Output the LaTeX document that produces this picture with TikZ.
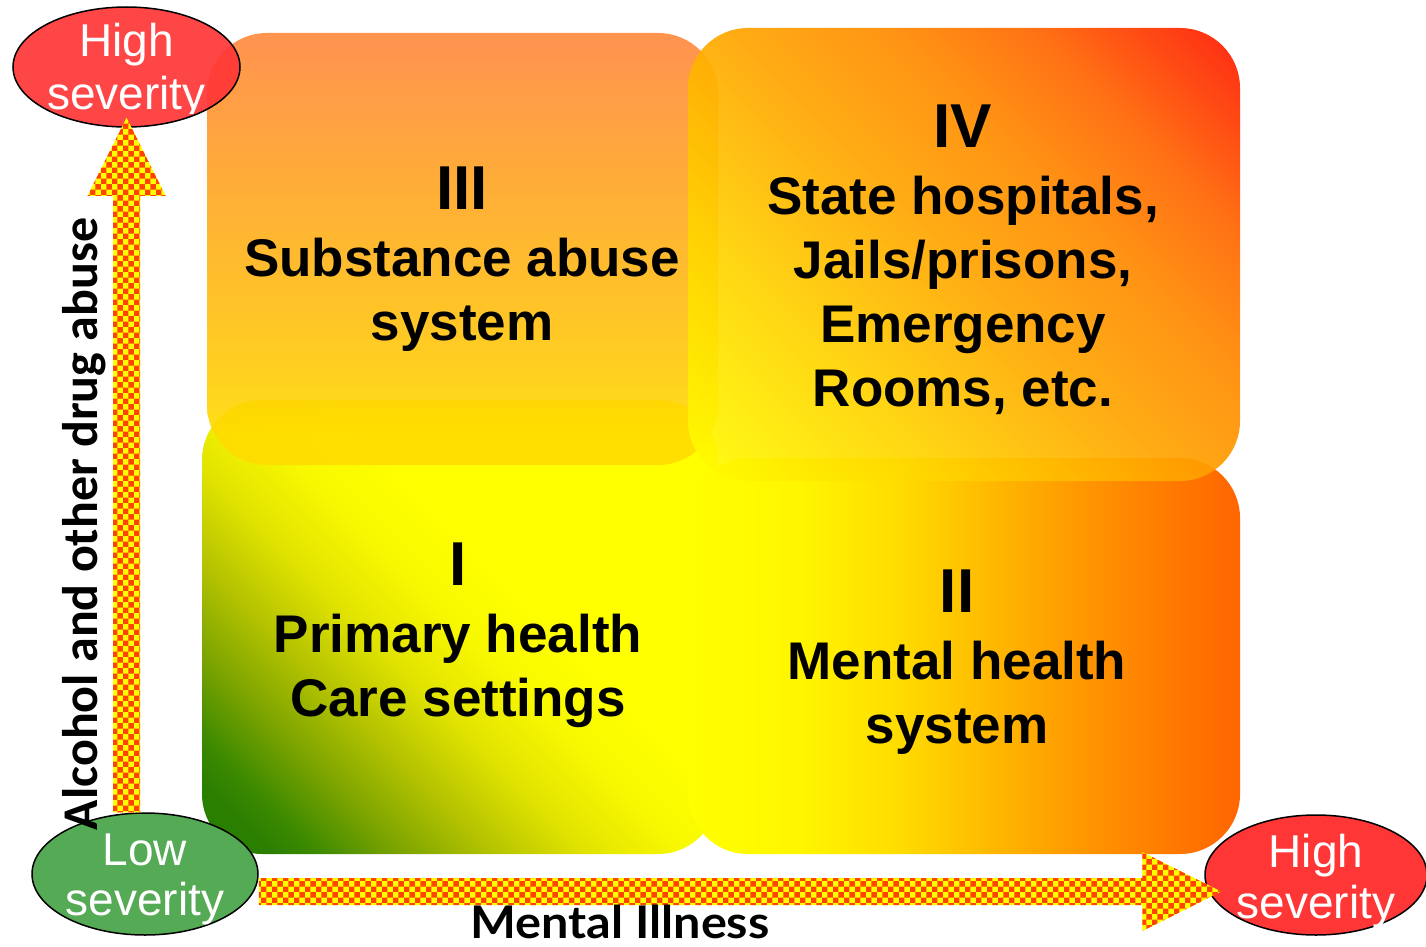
\documentclass[tikz,border=0pt]{standalone}
\usepackage{fontspec}
\setmainfont{Liberation Sans}
\newfontfamily\calibfont{Carlito}
\newfontfamily\gillfont[FakeStretch=1.08]{Lato}
\usetikzlibrary{calc,patterns,shapes.geometric}

\definecolor{sevred}{HTML}{FF3636}
\definecolor{sevgreen}{HTML}{55AA55}
\definecolor{chkred}{HTML}{FF4400}
\definecolor{chkyel}{HTML}{FFFF00}
% III
\definecolor{c3a}{HTML}{FFDC00}
\definecolor{c3b}{HTML}{FFC20D}
\definecolor{c3c}{HTML}{FFA522}
\definecolor{c3d}{HTML}{FF883C}
% IV
\definecolor{c4a}{HTML}{FFFF00}
\definecolor{c4b}{HTML}{FFD500}
\definecolor{c4c}{HTML}{FFA300}
\definecolor{c4d}{HTML}{FF8B00}
\definecolor{c4e}{HTML}{FF6400}
\definecolor{c4f}{HTML}{FF3C00}
\definecolor{c4g}{HTML}{FF1500}
% I
\definecolor{c1a}{HTML}{2A7E00}
\definecolor{c1b}{HTML}{3E8A00}
\definecolor{c1c}{HTML}{78A200}
\definecolor{c1d}{HTML}{B4C200}
\definecolor{c1e}{HTML}{E2E400}
\definecolor{c1f}{HTML}{F8F800}
\definecolor{c1g}{HTML}{FFFF00}
% II
\definecolor{c2a}{HTML}{FFFF00}
\definecolor{c2b}{HTML}{FFF600}
\definecolor{c2c}{HTML}{FFDC00}
\definecolor{c2d}{HTML}{FFB400}
\definecolor{c2e}{HTML}{FF9000}
\definecolor{c2f}{HTML}{FF7000}
\definecolor{c2g}{HTML}{FF6600}

\pgfdeclareverticalshading{shIII}{100bp}{color(0bp)=(c3a); color(28bp)=(c3a); color(40.5bp)=(c3b); color(57bp)=(c3c); color(74bp)=(c3d); color(100bp)=(c3d)}
\pgfdeclarehorizontalshading{shIV}{100bp}{color(0bp)=(c4a); color(14.6bp)=(c4a); color(32.3bp)=(c4b); color(50bp)=(c4c); color(60.6bp)=(c4d); color(71.2bp)=(c4e); color(78.2bp)=(c4f); color(85.4bp)=(c4g); color(100bp)=(c4g)}
\pgfdeclarehorizontalshading{shI}{100bp}{color(0bp)=(c1a); color(19.5bp)=(c1a); color(23.1bp)=(c1b); color(28.7bp)=(c1c); color(35.8bp)=(c1d); color(42.9bp)=(c1e); color(50bp)=(c1f); color(57bp)=(c1g); color(100bp)=(c1g)}
\pgfdeclarehorizontalshading{shII}{100bp}{color(0bp)=(c2a); color(25bp)=(c2a); color(35bp)=(c2b); color(44bp)=(c2c); color(53.5bp)=(c2d); color(62.5bp)=(c2e); color(71.5bp)=(c2f); color(75bp)=(c2g); color(100bp)=(c2g)}

\tikzset{
  quad/.style={rectangle, rounded corners=60pt, inner sep=0pt, draw=none},
  quadtext/.style={anchor=north, align=center, inner sep=0pt,
    font=\bfseries\fontsize{53}{64}\selectfont},
  sev/.style={ellipse, draw=black, line width=1.5pt, inner sep=0pt,
    minimum width=227pt, minimum height=120pt},
  sevtext/.style={anchor=base, text=white, inner sep=0pt,
    font=\fontsize{46}{46}\selectfont},
  fatarrow/.style={preaction={fill=chkyel}, pattern=checkerboard, pattern color=chkred},
}
\newcommand{\numeral}[1]{{\fontsize{62}{64}\selectfont #1}\\[3pt]}

\begin{document}
\begin{tikzpicture}[x=1pt, y=-1pt]
\useasboundingbox (0,0) rectangle (1426,947);

% quadrants I and II
\node[quad, shading=shI, shading angle=45, minimum width=516pt, minimum height=454pt] (q1) at (460,627) {};
\node[quad, shading=shII, minimum width=552pt, minimum height=396pt] (q2) at (964,656) {};
% quadrants III and IV (translucent)
\node[quad, shading=shIII, opacity=0.9, minimum width=511pt, minimum height=432pt] (q3) at (462.5,249) {};
\node[quad, shading=shIV, shading angle=45, opacity=0.92, minimum width=552pt, minimum height=453pt] (q4) at (964,254.5) {};

% severity ellipses
\node[sev, fill=sevred, fill opacity=0.92] (htl) at (126.5,67) {};
\node[sev, fill=sevgreen, minimum width=226pt, minimum height=122pt] (low) at (145,874) {};
\node[sev, fill=sevred, minimum width=222pt] (hbr) at (1316,875) {};

% axis arrows
\coordinate (vs) at (htl.south |- low.north);
\coordinate (vt) at ($(htl.south)+(0,-10)$);
\coordinate (hs) at ($(low.east)+(0,17.5)$);
\coordinate (ht) at ($(hbr.west)+(17,16.5)$);
\fill[fatarrow] ($(vs)+(-13.5,0)$) -- ($(vt)+(-13.5,78)$) -- ($(vt)+(-39,78)$) -- (vt)
  -- ($(vt)+(39,78)$) -- ($(vt)+(13.5,78)$) -- ($(vs)+(13.5,0)$) -- cycle;
\fill[fatarrow] ($(hs)+(0,-13.5)$) -- ($(ht)+(-79,-13.5)$) -- ($(ht)+(-79,-39.5)$) -- (ht)
  -- ($(ht)+(-79,39.5)$) -- ($(ht)+(-79,13.5)$) -- ($(hs)+(0,13.5)$) -- cycle;

% ellipse texts
\begin{scope}
\clip (htl.west |- htl.north) rectangle ($(htl.east |- htl.south)+(0,-14)$);
\node[sevtext] (htl1) at ($(htl.center)+(0,-10)$) {High};
\node[sevtext] (htl2) at ($(htl.center)+(0,43)$) {severity};
\end{scope}
\begin{scope}
\clip (low.west |- low.north) rectangle ($(low.east |- low.south)+(0,-8)$);
\node[sevtext] (low1) at ($(low.center)+(0,-9)$) {Low};
\node[sevtext] (low2) at ($(low.center)+(0,41)$) {severity};
\end{scope}
\begin{scope}
\clip (hbr.west |- hbr.north) rectangle ($(hbr.east |- hbr.south)+(0,-7)$);
\node[sevtext] (hbr1) at ($(hbr.center)+(0,-8)$) {High};
\node[sevtext] (hbr2) at ($(hbr.center)+(0,43)$) {severity};
\end{scope}

% quadrant texts
\node[quadtext] (t3) at (462,167) {\numeral{III}Substance abuse\\system};
\node[quadtext] (t4) at (963,105) {\numeral{IV}State hospitals,\\Jails/prisons,\\Emergency\\Rooms, etc.};
\node[quadtext] (t1) at (458,543) {\numeral{I}Primary health\\Care settings};
\node[quadtext] (t2) at (957,570) {\numeral{II}Mental health\\system};

% axis labels
\node[rotate=90, anchor=base, inner sep=0pt, font=\calibfont\bfseries\fontsize{50}{50}\selectfont] (ylab) at (97,524) {Alcohol and other drug abuse};
\node[anchor=base, inner sep=0pt, font=\gillfont\bfseries\fontsize{45}{45}\selectfont] (xlab) at (620,938) {Mental Illness};
\end{tikzpicture}
\end{document}
